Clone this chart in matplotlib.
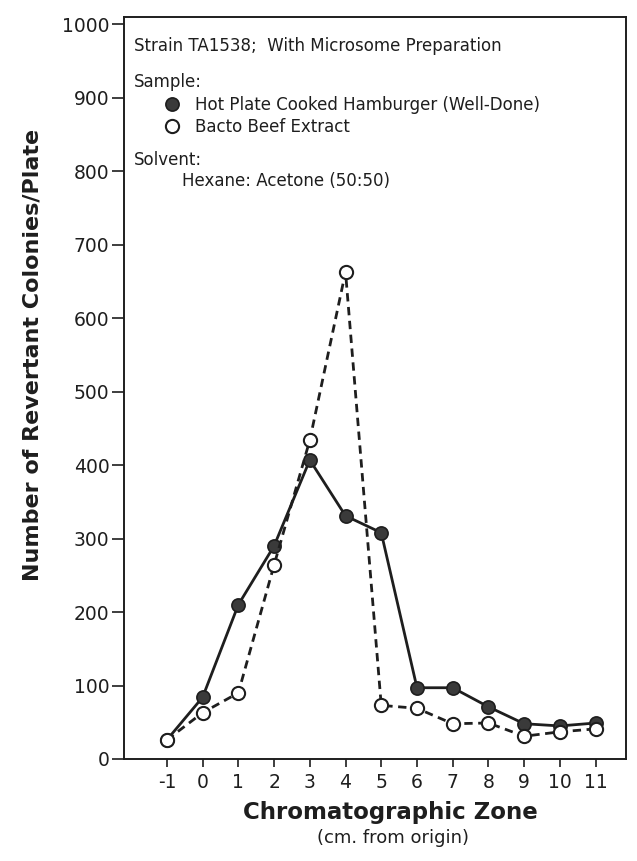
import matplotlib
matplotlib.use("Agg")
import matplotlib.pyplot as plt
from matplotlib.lines import Line2D

# chromatographic zone (cm from origin)
zones = [-1, 0, 1, 2, 3, 4, 5, 6, 7, 8, 9, 10, 11]
zone_labels = ["-1", "0", "1", "2", "3", "4", "5", "6", "7", "8", "9", "10", "11"]

# revertant colonies / plate
hamburger = [26, 84, 210, 290, 407, 331, 308, 97, 97, 71, 48, 45, 49]
beef_extract = [26, 63, 90, 264, 434, 663, 73, 69, 48, 49, 31, 37, 41]

y_ticks = [0, 100, 200, 300, 400, 500, 600, 700, 800, 900, 1000]

INK = "#1e1e1e"
W, H = 637, 861

plt.rcParams["font.family"] = ["DejaVu Sans"]
fig = plt.figure(figsize=(W / 100, H / 100), dpi=100)
ax = fig.add_axes([124 / W, 1 - 759 / H, (626 - 124) / W, 742 / H])

ax.plot(zones, hamburger, color=INK, lw=2.0, marker="o", ms=9.5,
        mfc="#3a3a3a", mec=INK, mew=1.2, zorder=3)
ax.plot(zones, beef_extract, color=INK, lw=2.0, ls=(0, (3, 2)), marker="o", ms=9.5,
        mfc="white", mec=INK, mew=1.5, zorder=4)

ax.set_xlim(-2.2, 11.85)
ax.set_ylim(0, 1010)
ax.set_xticks(zones)
ax.set_xticklabels(zone_labels)
ax.set_yticks(y_ticks)
ax.tick_params(axis="y", direction="out", length=9, width=1.2, pad=1.5,
               labelsize=13.5, colors=INK)
ax.tick_params(axis="x", direction="out", length=6, width=1.2, pad=4,
               labelsize=13.5, colors=INK)
for s in ax.spines.values():
    s.set_linewidth(1.4)
    s.set_color(INK)

fig.text(33 / W, 1 - 355 / H, "Number of Revertant Colonies/Plate", rotation=90,
         ha="center", va="center", fontsize=16, fontweight="bold", color=INK)
fig.text(390 / W, 1 - 812 / H, "Chromatographic Zone", ha="center", va="center",
         fontsize=16.5, fontweight="bold", color=INK)
fig.text(393 / W, 1 - 838 / H, "(cm. from origin)", ha="center", va="center",
         fontsize=13, color=INK)

fig.text(134 / W, 1 - 46 / H, "Strain TA1538;  With Microsome Preparation",
         ha="left", va="center", fontsize=12, color=INK)
fig.text(134 / W, 1 - 82 / H, "Sample:", ha="left", va="center", fontsize=12, color=INK)
fig.text(134 / W, 1 - 160 / H, "Solvent:", ha="left", va="center", fontsize=12, color=INK)
fig.text(182 / W, 1 - 181 / H, "Hexane: Acetone (50:50)", ha="left", va="center",
         fontsize=12, color=INK)

handles = [
    Line2D([], [], ls="none", marker="o", ms=9.5, mfc="#3a3a3a", mec=INK, mew=1.2),
    Line2D([], [], ls="none", marker="o", ms=9.5, mfc="white", mec=INK, mew=1.5),
]
fig.legend(handles, ["Hot Plate Cooked Hamburger (Well-Done)", "Bacto Beef Extract"],
           loc="center left", bbox_to_anchor=(155 / W, 1 - 116 / H), frameon=False,
           borderpad=0, handlelength=1.0, handletextpad=0.9, labelspacing=0.2,
           fontsize=12, labelcolor=INK)

fig.savefig("out.png", dpi=100, facecolor="white")
